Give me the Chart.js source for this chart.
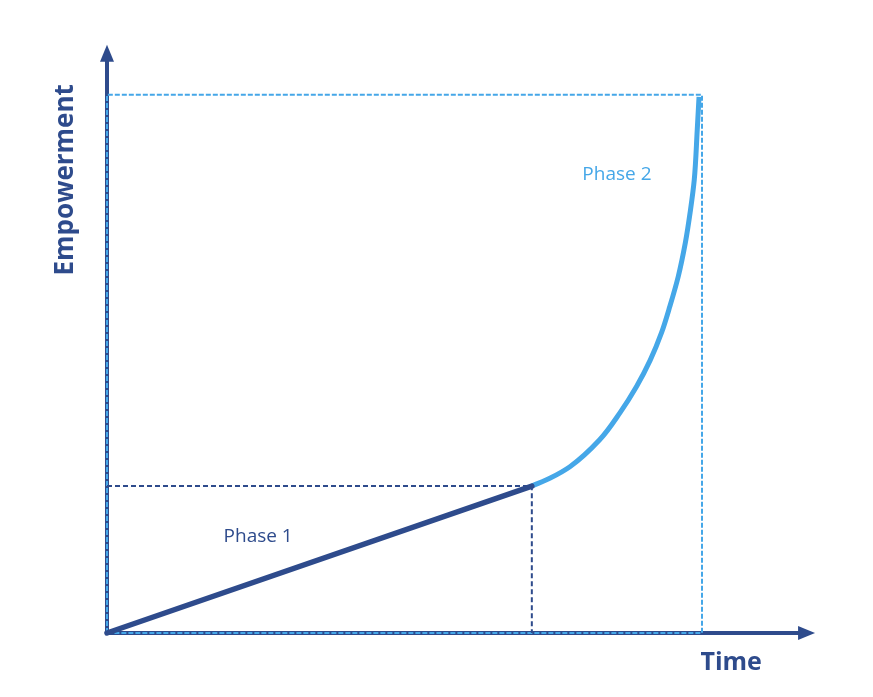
<!DOCTYPE html>
<html>
<head>
<meta charset="utf-8">
<script src="https://cdn.jsdelivr.net/npm/chart.js@4.4.0/dist/chart.umd.min.js"></script>
<style>
html,body{margin:0;padding:0;background:#fff;}
#wrap{width:873px;height:697px;}
</style>
</head>
<body>
<div id="wrap"><canvas id="c" width="873" height="697"></canvas></div>
<script>
// ---- data ----
const phase1X = [0, 71.4];
const phase1Y = [0, 27.3];
const phase2X = [71.4, 74.5, 77.8, 82.8, 86.2, 89.0, 91.3, 93.2, 94.6, 96.0, 97.2, 98.0, 98.7, 99.2, 99.5];
const phase2Y = [27.3, 28.8, 30.9, 35.9, 40.9, 45.8, 50.7, 55.8, 60.7, 66.2, 72.5, 78.1, 84.2, 93.5, 99.6];
const phase1BoxX = [0, 71.4, 71.4];
const phase1BoxY = [27.3, 27.3, 0];
const phase2BoxX = [0, 0, 100, 100, 0];
const phase2BoxY = [0, 100, 100, 0, 0];
const axisMaxX = 119;
const axisMaxY = 109.3;
const labelTexts = ["Phase 1", "Phase 2"];
const labelX = [25.4, 85.7];
const labelY = [18.0, 85.1];
const xTitle = "Time";
const yTitle = "Empowerment";

const DARK = '#2E4B8C';
const LIGHT = '#45A7E8';

const pts = (xs, ys) => xs.map((x, i) => ({x, y: ys[i]}));

const overlay = {
  id: 'overlay',
  beforeDatasetsDraw(chart) {
    const {ctx, scales: {x, y}} = chart;
    const x0 = x.getPixelForValue(0), y0 = y.getPixelForValue(0);
    const xt = x.getPixelForValue(axisMaxX), yt = y.getPixelForValue(axisMaxY);
    ctx.save();
    ctx.strokeStyle = DARK; ctx.fillStyle = DARK; ctx.lineWidth = 4;
    // y axis
    ctx.beginPath(); ctx.moveTo(x0, y0 + 2); ctx.lineTo(x0, yt + 14); ctx.stroke();
    ctx.beginPath(); ctx.moveTo(x0, yt); ctx.lineTo(x0 - 7, yt + 17); ctx.lineTo(x0 + 7, yt + 17); ctx.closePath(); ctx.fill();
    // x axis
    ctx.beginPath(); ctx.moveTo(x0 - 2, y0); ctx.lineTo(xt - 14, y0); ctx.stroke();
    ctx.beginPath(); ctx.moveTo(xt, y0); ctx.lineTo(xt - 17, y0 - 7); ctx.lineTo(xt - 17, y0 + 7); ctx.closePath(); ctx.fill();
    ctx.restore();
  },
  afterDraw(chart) {
    const {ctx, scales: {x, y}} = chart;
    ctx.save();
    ctx.textAlign = 'center'; ctx.textBaseline = 'middle';
    ctx.font = '19px "Open Sans"';
    labelTexts.forEach((t, i) => {
      ctx.fillStyle = i === 0 ? DARK : LIGHT;
      ctx.fillText(t, x.getPixelForValue(labelX[i]), y.getPixelForValue(labelY[i]));
    });
    ctx.fillStyle = DARK;
    ctx.font = 'bold 25px "Open Sans"';
    ctx.fillText(xTitle, x.getPixelForValue(104.9), y.getPixelForValue(0) + 30);
    ctx.translate(x.getPixelForValue(0) - 41, y.getPixelForValue(84.2));
    ctx.rotate(-Math.PI / 2);
    ctx.font = 'bold 26px "Open Sans"';
    ctx.fillText(yTitle, 0, 0);
    ctx.restore();
  }
};

new Chart(document.getElementById('c'), {
  type: 'scatter',
  data: {
    datasets: [
      {data: pts(phase1X, phase1Y), showLine: true, borderColor: DARK, borderWidth: 5.5, pointRadius: 0, order: 1, clip: false, borderCapStyle: 'round'},
      {data: pts(phase2X, phase2Y), showLine: true, borderColor: LIGHT, borderWidth: 5, pointRadius: 0, indexAxis: 'y', cubicInterpolationMode: 'monotone', order: 1, clip: false},
      {data: pts(phase1BoxX, phase1BoxY), showLine: true, borderColor: DARK, borderWidth: 2, borderDash: [5, 3], pointRadius: 0, order: 2, clip: false},
      {data: pts(phase2BoxX, phase2BoxY), showLine: true, borderColor: LIGHT, borderWidth: 2, borderDash: [5, 2], pointRadius: 0, order: 3, clip: false}
    ]
  },
  options: {
    responsive: false,
    animation: false,
    layout: {padding: {left: 107, right: 52, top: 41, bottom: 64}},
    plugins: {legend: {display: false}, tooltip: {enabled: false}},
    scales: {
      x: {type: 'linear', min: 0, max: 120, display: false},
      y: {type: 'linear', min: 0, max: 110, display: false}
    }
  },
  plugins: [overlay]
});
</script>
</body>
</html>
